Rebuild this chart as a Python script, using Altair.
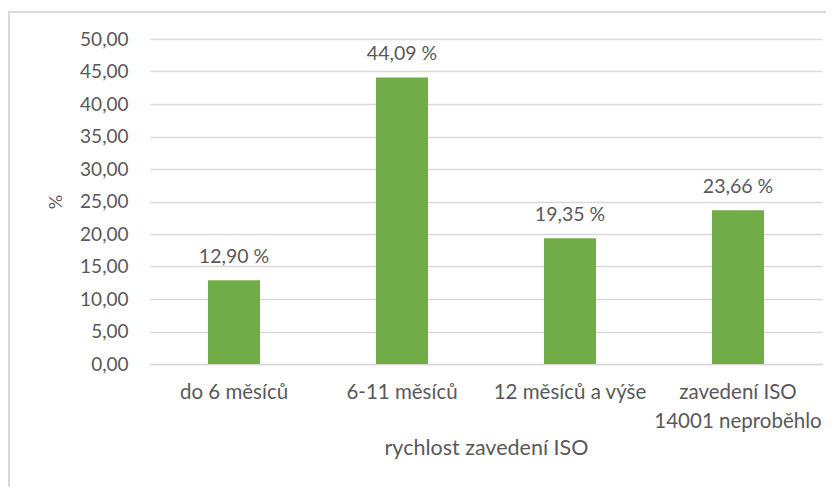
import altair as alt
import pandas as pd

categories = ["do 6 měsíců", "6-11 měsíců", "12 měsíců a výše", "zavedení ISO|14001 neproběhlo"]
values = [12.90, 44.09, 19.35, 23.66]
labels = ["12,90 %", "44,09 %", "19,35 %", "23,66 %"]
ticks = [0, 5, 10, 15, 20, 25, 30, 35, 40, 45, 50]

df = pd.DataFrame({"cat": categories, "val": values, "lab": labels})

FONT = "Lato"
GREY = "#595959"

x = alt.X("cat:N", sort=categories, title="rychlost zavedení ISO",
          scale=alt.Scale(paddingInner=0.69, paddingOuter=0.345),
          axis=alt.Axis(labelExpr="split(datum.label, '|')", labelAngle=0,
                        labelFontSize=20.5, labelColor=GREY, labelFont=FONT,
                        labelPadding=18, labelLineHeight=29,
                        ticks=False, domainColor="#d9d9d9", domainWidth=1.5,
                        titleFont=FONT, titleFontSize=21.5, titleColor=GREY,
                        titleFontWeight="normal", titlePadding=6))

y = alt.Y("val:Q", title="%",
          scale=alt.Scale(domain=[0, 50], nice=False),
          axis=alt.Axis(values=ticks, labelOverlap=False,
                        labelExpr="replace(format(datum.value, '.2f'), '.', ',')",
                        labelFontSize=19, labelColor=GREY, labelFont=FONT,
                        labelPadding=22, ticks=False, domain=False,
                        gridColor="#d9d9d9", gridWidth=1.5,
                        titleFont=FONT, titleFontSize=18, titleColor=GREY,
                        titleFontWeight="normal", titlePadding=14))

border = alt.Chart(pd.DataFrame({"a": [0]})).mark_rect(
    fill="transparent", stroke="#d9d9d9", strokeWidth=2, clip=False
).encode(x=alt.value(-141), x2=alt.value(700), y=alt.value(-27), y2=alt.value(500))

bars = alt.Chart(df).mark_bar(color="#70ad47").encode(x=x, y=y)

text = alt.Chart(df).mark_text(baseline="bottom", dy=-13, fontSize=19.5,
                               font=FONT, color=GREY).encode(
    x=x, y=y, text="lab:N")

chart = alt.layer(border, bars, text).properties(
    width=672, height=325,
    autosize=alt.AutoSizeParams(type="none"),
    padding={"left": 142, "top": 31, "right": 4, "bottom": 123},
).configure_view(stroke=None)

chart.save("out.html", embed_options={"renderer": "svg", "actions": False})
